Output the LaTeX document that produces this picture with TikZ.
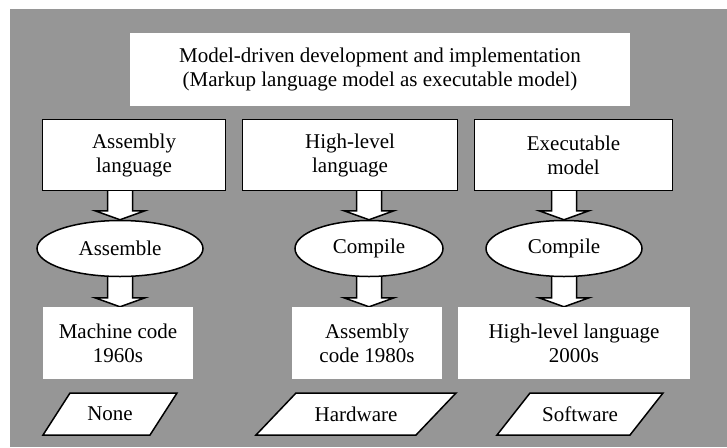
\documentclass[tikz,border=0pt]{standalone}
\usepackage{fontspec}
\setmainfont{Liberation Serif}
\usetikzlibrary{shapes.geometric,calc}
\definecolor{bggray}{RGB}{150,150,150}
\pgfdeclarelayer{bglayer}
\pgfdeclarelayer{arrowlayer}
\pgfsetlayers{bglayer,arrowlayer,main}
\newcommand\fatarrow[3]{% #1 source node, #2 target node, #3 node giving x
  \draw[blockarrow] let \p1=(#1.south), \p2=(#2.north), \p3=(#3.center) in
   (\x3-12.5pt,\y1+6pt) -- (\x3-12.5pt,\y2+9pt) -- (\x3-25pt,\y2+9pt) -- (\x3,\y2)
   -- (\x3+25pt,\y2+9pt) -- (\x3+12.5pt,\y2+9pt) -- (\x3+12.5pt,\y1+6pt);
}
\begin{document}
\begin{tikzpicture}[x=1pt,y=-1pt,
  every node/.style={font=\fontsize{21}{24}\selectfont, align=center, inner sep=0pt},
  topbox/.style={draw=black, line width=1.5pt, fill=white, minimum height=71pt},
  plainbox/.style={fill=white, minimum height=72pt},
  oval/.style={ellipse, draw=black, line width=1.5pt, fill=white, minimum height=56pt},
  blockarrow/.style={draw=black, line width=1.5pt, fill=white, line join=miter},
  para/.style={draw=black, line width=1.5pt, fill=white, line join=miter}]

\useasboundingbox (0,0) rectangle (727,447);
\begin{pgfonlayer}{bglayer}
  \fill[white] (0,0) rectangle (727,447);
  \fill[bggray] (10,9) rectangle (727,447);
\end{pgfonlayer}

% title
\node[plainbox, minimum width=500pt, minimum height=73pt] (title) at (380,69.5)
  {Model-driven development and implementation\\(Markup language model as executable model)};

% top boxes
\node[topbox, minimum width=183pt] (b1) at (134,155) {Assembly\\language};
\node[topbox, minimum width=215pt] (b2) at (350,155) {High-level\\language};
\node[topbox, minimum width=198pt] (b3) at (573.5,155) {Executable\\model};

% ellipses
\node[oval, minimum width=166pt] (e1) at (120,248.5) {Assemble};
\node[oval, minimum width=148pt] (e2) at (369,248.5) {Compile};
\node[oval, minimum width=156pt] (e3) at (564,248.5) {Compile};

% bottom boxes
\node[plainbox, minimum width=150pt] (c1) at (118,343) {Machine code\\1960s};
\node[plainbox, minimum width=150pt] (c2) at (367,343) {Assembly\\code 1980s};
\node[plainbox, minimum width=232pt] (c3) at (574,343) {High-level language\\2000s};

% block arrows
\begin{pgfonlayer}{arrowlayer}
  \fatarrow{b1}{e1}{e1}
  \fatarrow{b2}{e2}{e2}
  \fatarrow{b3}{e3}{e3}
  \fatarrow{e1}{c1}{e1}
  \fatarrow{e2}{c2}{e2}
  \fatarrow{e3}{c3}{e3}
\end{pgfonlayer}

% parallelograms
\draw[para] (43,435) -- (70,393) -- (177,393) -- (150,435) -- cycle;
\node (p1) at (110,414) {None};
\draw[para] (256,435) -- (296,393) -- (456,393) -- (416,435) -- cycle;
\node (p2) at (356,414) {Hardware};
\draw[para] (497,435) -- (530,393) -- (663,393) -- (630,435) -- cycle;
\node (p3) at (580,414) {Software};
\end{tikzpicture}
\end{document}
